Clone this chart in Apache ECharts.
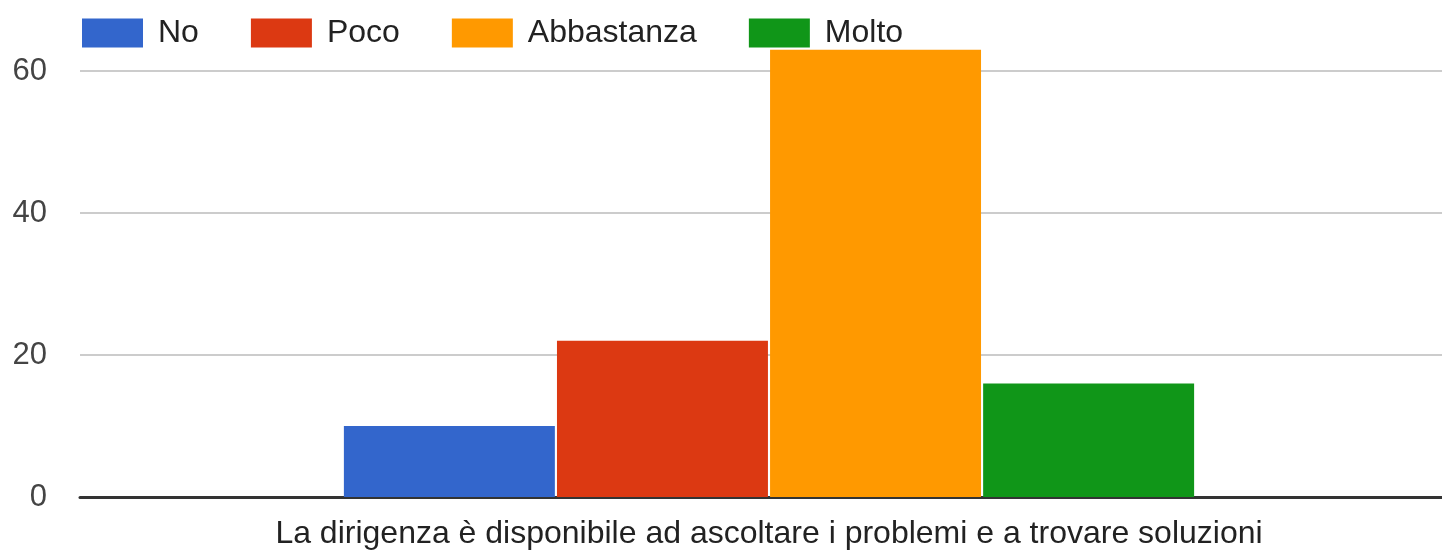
<!DOCTYPE html>
<html>
<head>
<meta charset="utf-8">
<script src="https://cdn.jsdelivr.net/npm/echarts@6/dist/echarts.min.js"></script>
<style>html,body{margin:0;padding:0;background:#fff}#c{width:1442px;height:550px}</style>
</head>
<body>
<div id="c"></div>
<script>
const categories = ['La dirigenza è disponibile ad ascoltare i problemi e a trovare soluzioni'];
const seriesNames = ['No', 'Poco', 'Abbastanza', 'Molto'];
const seriesValues = [[10], [22], [63], [16]];
const colors = ['#3366cc', '#dc3912', '#ff9900', '#109618'];
const yTicks = [0, 20, 40, 60];

const font = 'Arial, "Liberation Sans", sans-serif';
const chart = echarts.init(document.getElementById('c'), null, {renderer: 'canvas'});
chart.setOption({
  animation: false,
  color: colors,
  textStyle: {fontFamily: font},
  legend: {
    left: 77, top: 12,
    itemWidth: 61, itemHeight: 29, itemGap: 52,
    icon: 'rect',
    textStyle: {fontSize: 32, color: '#222', fontFamily: font, padding: [0, 0, 0, 10]},
    data: seriesNames
  },
  grid: {left: 80, top: 71, width: 1378, height: 426, containLabel: false, outerBoundsMode: 'none'},
  xAxis: {
    type: 'category',
    data: categories,
    axisLine: {lineStyle: {color: '#333', width: 3}},
    axisTick: {show: false},
    axisLabel: {fontSize: 32, color: '#222', margin: 21, fontFamily: font}
  },
  yAxis: {
    type: 'value',
    min: yTicks[0], max: yTicks[yTicks.length - 1], interval: 20,
    axisLine: {show: false},
    axisTick: {show: false},
    axisLabel: {fontSize: 31, color: '#444', margin: 33, fontFamily: font},
    splitLine: {lineStyle: {color: '#cccccc', width: 2}}
  },
  series: seriesNames.map((n, i) => ({
    name: n,
    type: 'bar',
    data: seriesValues[i],
    clip: false,
    barGap: '1%',
    barCategoryGap: '38.3%',
    itemStyle: {color: colors[i]}
  }))
});
</script>
</body>
</html>
